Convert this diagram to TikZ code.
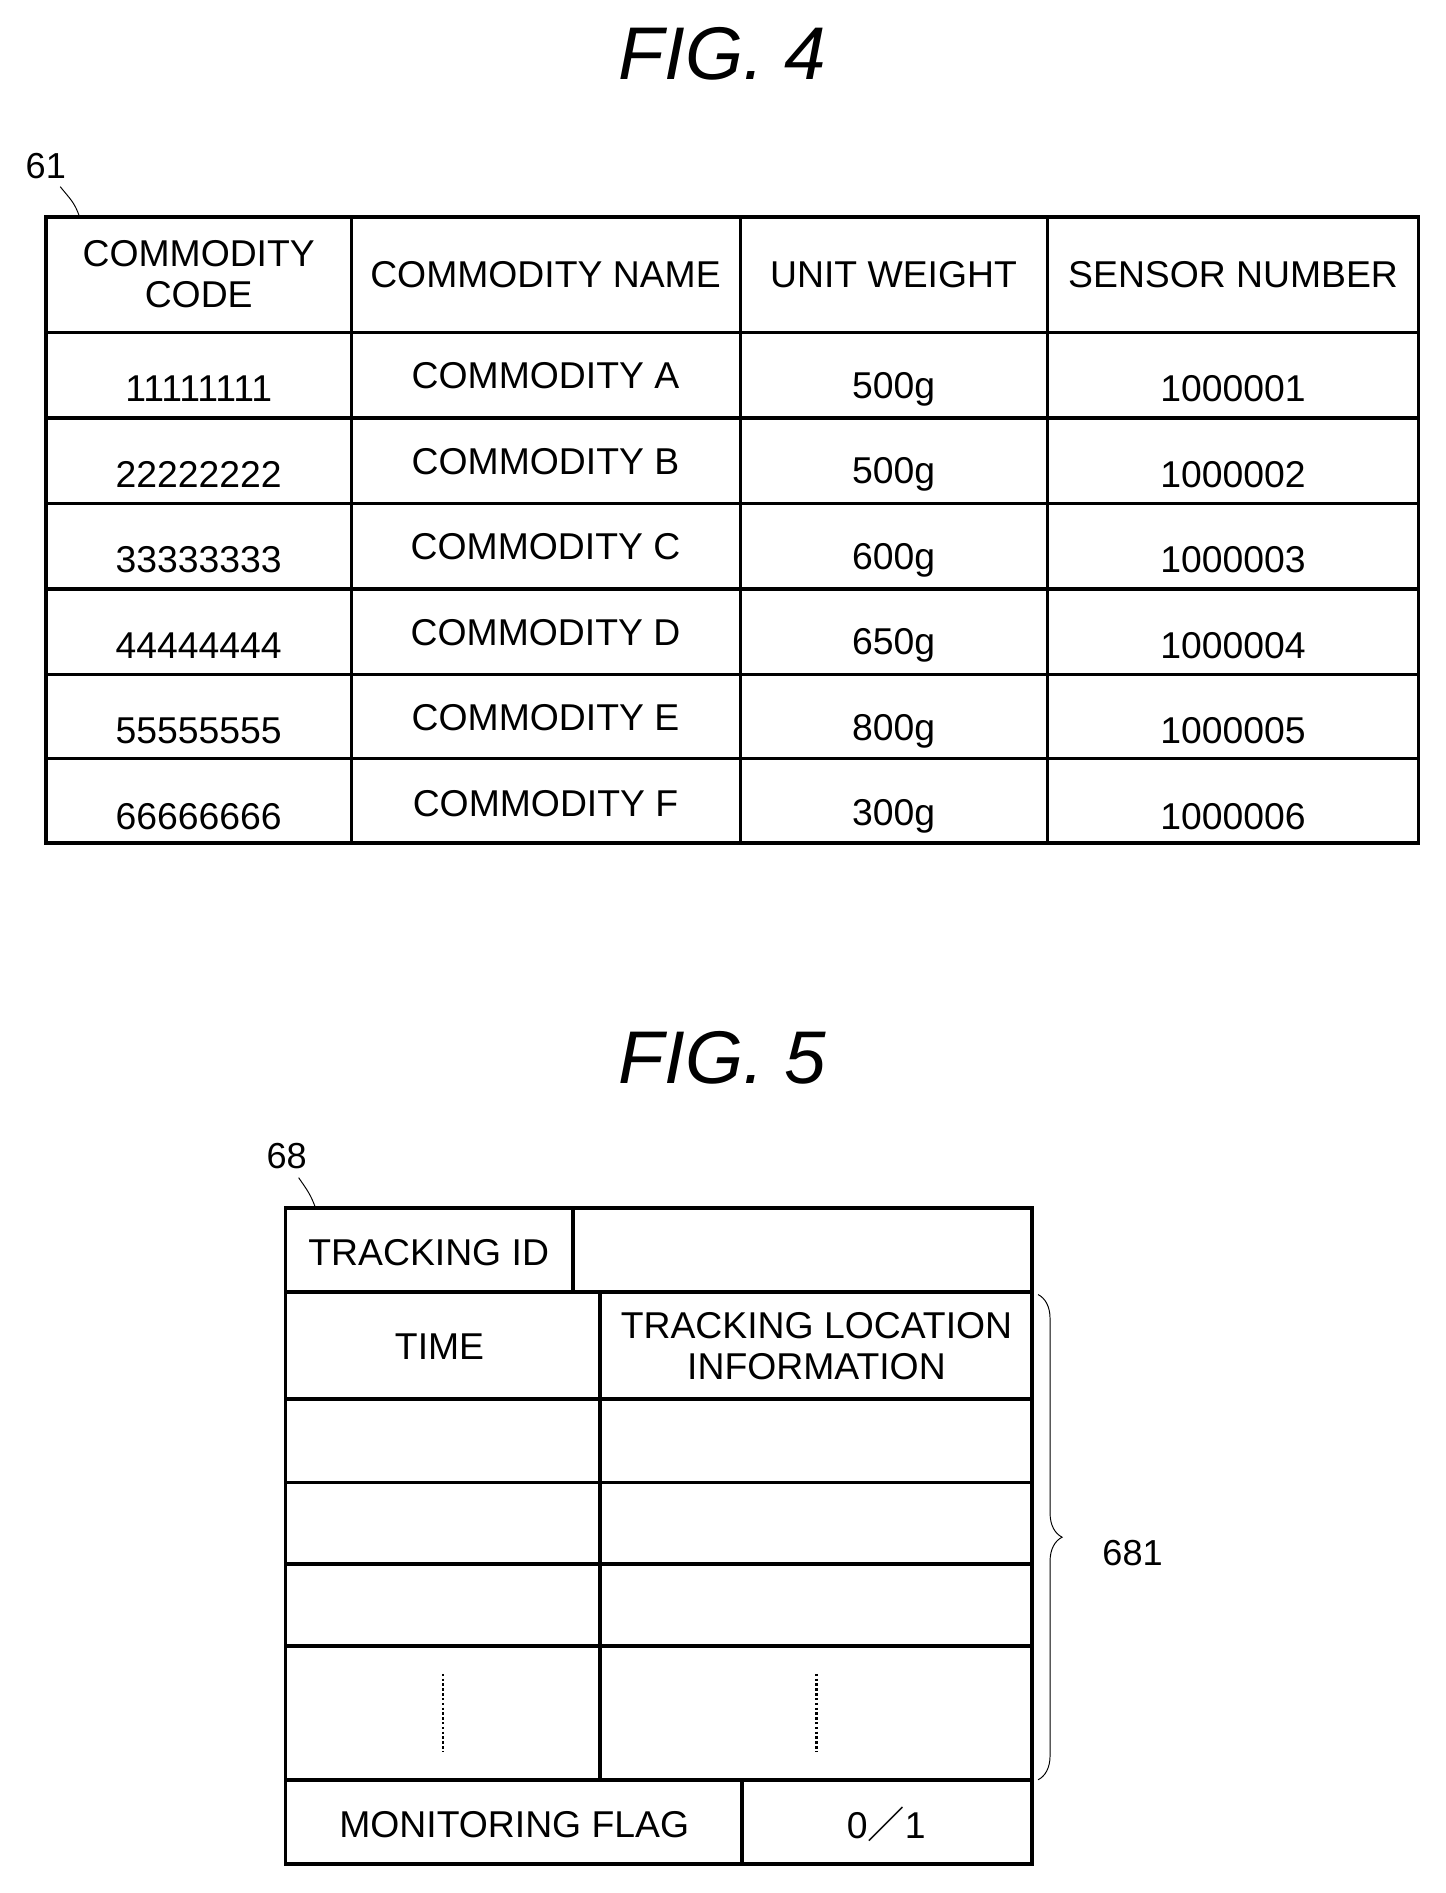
\documentclass[tikz,border=0pt]{standalone}
\usepackage{fontspec}
\setmainfont{Liberation Sans}
\newfontfamily\cjk{Noto Sans CJK JP}
\usetikzlibrary{decorations.pathreplacing}
\begin{document}
\begin{tikzpicture}[x=1pt,y=-1pt,
  tbl/.style={line width=3pt},
  cell/.style={font=\fontsize{31}{34}\selectfont,align=center},
  fig/.style={font=\itshape\fontsize{62}{64}\selectfont},
  ref/.style={font=\fontsize{30}{32}\selectfont}]
\useasboundingbox (0,0) rectangle (1200,1572);
\node[fig] (f4) at (600,45) {FIG. 4};
\node[ref] (r61) at (38,138) {61};
\coordinate (l61) at (50,155);
\draw[thick] (l61) .. controls (58,165) and (62,168) .. (66,180);
% table 61
\draw[tbl] (38,180) rectangle (1178,700);
\foreach \y in {276,347,418,489,560,630} \draw[tbl] (38,\y) -- (1178,\y);
\foreach \x in {292,615,870} \draw[tbl] (\x,180) -- (\x,700);
\node[cell] (h1) at (165,228) {COMMODITY\\CODE};
\node[cell] (h2) at (453,228) {COMMODITY NAME};
\node[cell] (h3) at (742,228) {UNIT WEIGHT};
\node[cell] (h4) at (1024,228) {SENSOR NUMBER};
\foreach \c/\n/\w/\s [count=\i] in {11111111/A/500/1, 22222222/B/500/2, 33333333/C/600/3, 44444444/D/650/4, 55555555/E/800/5, 66666666/F/300/6}{
  \pgfmathsetmacro{\yy}{276+71*(\i-1)}
  \node[cell] (c\i) at (165,\yy+47) {\c};
  \node[cell] (n\i) at (453,\yy+36) {COMMODITY \n};
  \node[cell] (w\i) at (742,\yy+47) {\w g};
  \node[cell] (s\i) at (1024,\yy+47) {100000\s};
}
% FIG 5
\node[fig] (f5) at (600,878) {FIG. 5};
\node[ref] (r68) at (238,960) {68};
\coordinate (l68) at (248,978);
\draw[thick] (l68) .. controls (255,988) and (258,992) .. (262,1003);
\draw[tbl] (237,1003) rectangle (857,1548);
\foreach \y in {1073,1162,1231,1299,1367,1478} \draw[tbl] (237,\y) -- (857,\y);
\draw[tbl] (476,1003) -- (476,1073);
\draw[tbl] (498,1073) -- (498,1478);
\draw[tbl] (616,1478) -- (616,1548);
\node[cell] (ti) at (356,1040) {TRACKING ID};
\node[cell] (tm) at (365,1118) {TIME};
\node[cell] (tl) at (678,1118) {TRACKING LOCATION\\INFORMATION};
\draw[line width=2pt,dotted] (368,1390) -- (368,1455);
\draw[line width=2pt,dotted] (678,1390) -- (678,1455);
\node[cell] (mf) at (427,1515) {MONITORING FLAG};
\node[cell] (fv) at (736,1515) {0{\cjk ／}1};
\coordinate (b1) at (862,1075);
\coordinate (b2) at (862,1478);
\draw[thick,decorate,decoration={brace,amplitude=20pt}] (b1) -- (b2);
\node[ref,anchor=west] (r681) at (912,1290) {681};
\end{tikzpicture}
\end{document}
